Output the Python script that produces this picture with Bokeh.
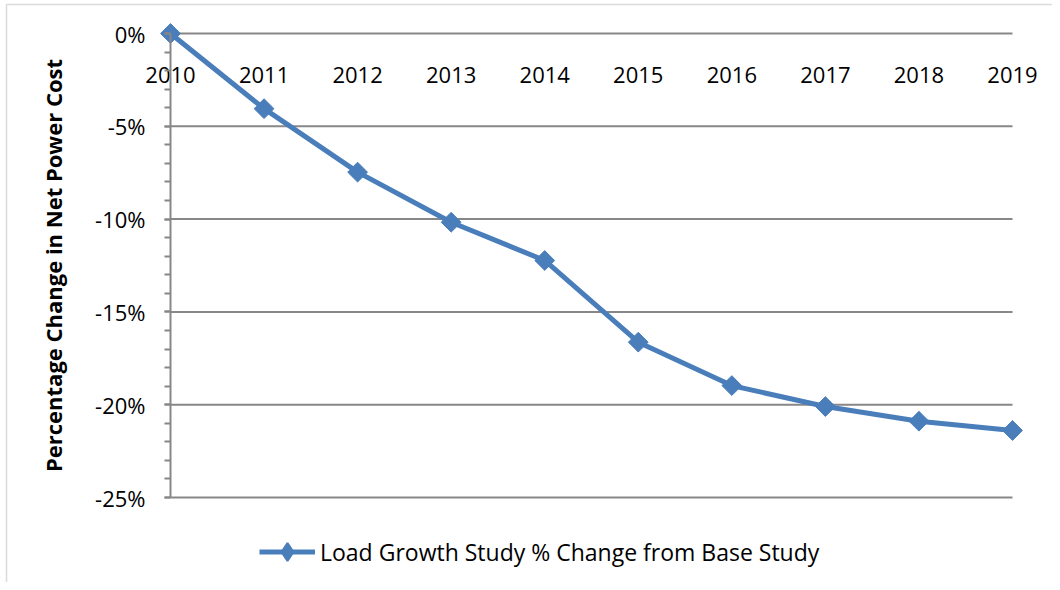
from math import pi
from bokeh.plotting import figure
from bokeh.models import (FixedTicker, PrintfTickFormatter, Legend, LegendItem,
                          LinearAxis, Range1d, BoxAnnotation)
from bokeh.embed import file_html
from bokeh.resources import INLINE

years = [2010, 2011, 2012, 2013, 2014, 2015, 2016, 2017, 2018, 2019]
pct_change = [0.0, -4.05, -7.47, -10.17, -12.23, -16.63, -18.97, -20.1, -20.89, -21.39]
y_major = [0, -5, -10, -15, -20, -25]
y_minor = [v for v in range(-25, 1)]
series_name = "Load Growth Study % Change from Base Study"
y_title = "Percentage Change in Net Power Cost"

FONT = "Open Sans"
BLUE = "#4a7ebb"
GRAY = "#878787"

W, H = 1052, 582
# pixel layout of the plotting area inside the canvas
PX_LEFT, PX_RIGHT, PX_TOP, PX_BOTTOM = 170, 1012, 33, 497

x_lo, x_hi = years[0], years[-1]
y_lo, y_hi = y_major[-1], y_major[0]
sx = (PX_RIGHT - PX_LEFT) / (x_hi - x_lo)
sy = (PX_BOTTOM - PX_TOP) / (y_hi - y_lo)
x_start = x_lo - PX_LEFT / sx
x_end = x_start + W / sx
y_end = y_hi + PX_TOP / sy
y_start = y_end - H / sy


def px_x(px):
    return x_start + px / sx


def px_y(py):
    return y_end - py / sy


p = figure(width=W, height=H, output_backend="svg", toolbar_location=None,
           x_range=Range1d(x_start, x_end), y_range=Range1d(y_start, y_end),
           x_axis_location=None, y_axis_location=None,
           min_border=0, min_border_left=0, min_border_right=0,
           min_border_top=0, min_border_bottom=0)
p.outline_line_color = None
p.background_fill_color = "white"
p.border_fill_color = "white"
p.xgrid.visible = False
p.ygrid.visible = False

# outer chart border (left and top edges visible)
p.add_layout(BoxAnnotation(left=px_x(6), top=px_y(4), right=px_x(W + 50), bottom=px_y(H + 50),
                           fill_alpha=0, line_color=GRAY, line_width=1.5))

# horizontal gridlines over the plotting area
p.segment(x0=x_lo, x1=x_hi, y0=y_major, y1=y_major, line_color=GRAY, line_width=2)

# y axis
ya = LinearAxis(fixed_location=x_lo, bounds=(y_lo, y_hi))
ya.ticker = FixedTicker(ticks=y_major, minor_ticks=y_minor)
ya.formatter = PrintfTickFormatter(format="%d%%")
ya.axis_line_color = GRAY
ya.axis_line_width = 2
ya.major_tick_line_color = GRAY
ya.minor_tick_line_color = GRAY
ya.major_tick_line_width = 2
ya.minor_tick_line_width = 2
ya.major_tick_out = 6
ya.major_tick_in = 0
ya.minor_tick_out = 6
ya.minor_tick_in = 0
ya.major_label_text_font = FONT
ya.major_label_text_font_size = "22px"
ya.major_label_text_color = "black"
ya.major_label_standoff = 19
ya.axis_label = y_title
ya.axis_label_text_font = FONT
ya.axis_label_text_font_size = "22px"
ya.axis_label_text_font_style = "bold"
ya.axis_label_text_color = "black"
ya.axis_label_standoff = 24
p.add_layout(ya, "left")

# x axis positioned at y = 0
xa = LinearAxis(fixed_location=0, bounds=(x_lo, x_hi))
xa.ticker = FixedTicker(ticks=years, minor_ticks=[])
xa.formatter = PrintfTickFormatter(format="%d")
xa.axis_line_color = None
xa.major_tick_line_color = None
xa.minor_tick_line_color = None
xa.major_label_text_font = FONT
xa.major_label_text_font_size = "22px"
xa.major_label_text_color = "black"
xa.major_label_standoff = 27
p.add_layout(xa, "below")

line = p.line(years, pct_change, line_color=BLUE, line_width=5)
pts = p.scatter(years, pct_change, marker="square", angle=pi / 4, size=14,
                fill_color=BLUE, line_color=BLUE)
# diamond marker used for the legend key (hidden in the plot area)
key = p.scatter(years, pct_change, marker="diamond", fill_color=BLUE,
                line_color=BLUE, line_width=2, visible=False)

legend = Legend(items=[LegendItem(label=series_name, renderers=[line, key])],
                location=(259, 8), orientation="horizontal",
                label_text_font=FONT, label_text_font_size="23px",
                label_text_color="black", glyph_width=56, glyph_height=45,
                border_line_color=None, background_fill_alpha=0,
                padding=0, margin=0, label_standoff=5)
p.add_layout(legend, "center")

open("out.html", "w").write(file_html(p, INLINE))
